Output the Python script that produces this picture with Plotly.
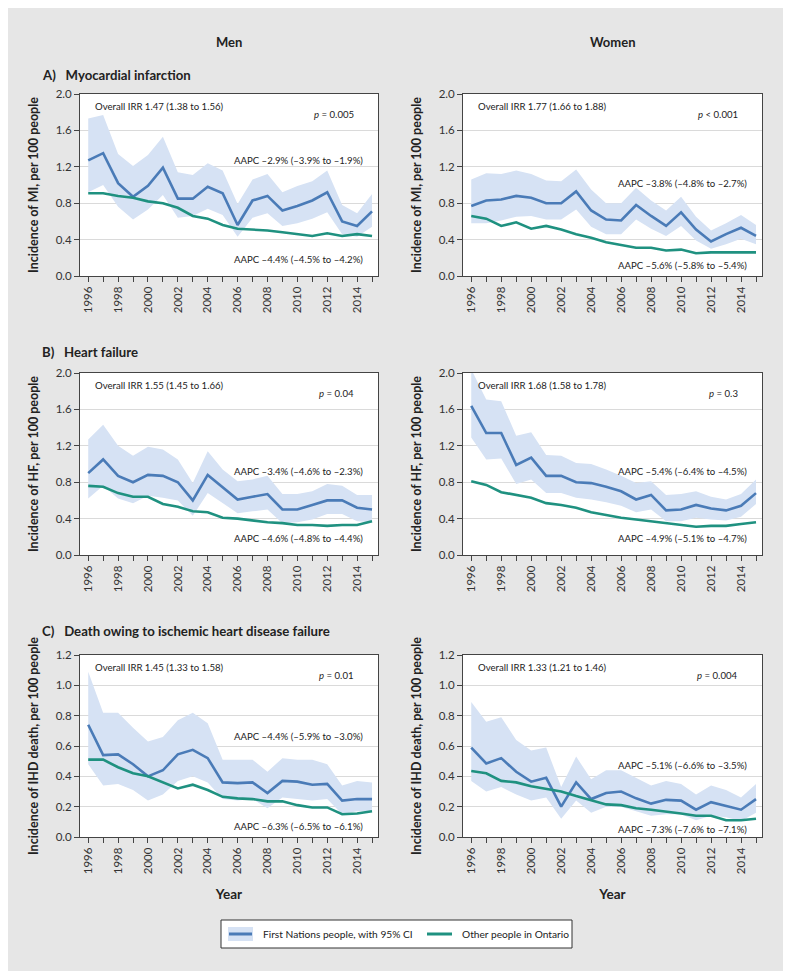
import plotly.graph_objects as go

# The page body has an 8 px default margin, so the figure is drawn at (8, 8)
OFF = 8
W, H = 791 - OFF, 978 - OFF

years = list(range(1996, 2016))
tick_labels = [str(y) if y % 2 == 0 else "" for y in years]

# A) Myocardial infarction
mi_men_fn = [1.27, 1.35, 1.02, 0.87, 0.99, 1.19, 0.85, 0.85, 0.98, 0.91, 0.56, 0.83, 0.88, 0.72, 0.77, 0.83, 0.92, 0.60, 0.55, 0.71]
mi_men_hi = [1.73, 1.77, 1.34, 1.21, 1.33, 1.53, 1.14, 1.11, 1.24, 1.16, 0.79, 1.06, 1.12, 0.92, 0.99, 1.04, 1.16, 0.78, 0.69, 0.90]
mi_men_lo = [0.92, 1.00, 0.76, 0.62, 0.73, 0.89, 0.64, 0.66, 0.74, 0.67, 0.43, 0.64, 0.69, 0.55, 0.58, 0.63, 0.70, 0.46, 0.43, 0.54]
mi_men_other = [0.91, 0.91, 0.88, 0.86, 0.82, 0.80, 0.75, 0.66, 0.63, 0.56, 0.52, 0.51, 0.50, 0.48, 0.46, 0.44, 0.47, 0.44, 0.46, 0.44]

mi_women_fn = [0.77, 0.83, 0.84, 0.88, 0.86, 0.80, 0.80, 0.93, 0.72, 0.62, 0.61, 0.78, 0.66, 0.55, 0.70, 0.51, 0.38, 0.46, 0.53, 0.44]
mi_women_hi = [1.06, 1.13, 1.12, 1.16, 1.12, 1.05, 1.04, 1.17, 0.95, 0.80, 0.80, 0.97, 0.83, 0.72, 0.87, 0.65, 0.50, 0.58, 0.67, 0.56]
mi_women_lo = [0.58, 0.58, 0.61, 0.65, 0.66, 0.62, 0.62, 0.73, 0.54, 0.46, 0.46, 0.62, 0.52, 0.44, 0.55, 0.39, 0.30, 0.35, 0.41, 0.35]
mi_women_other = [0.66, 0.63, 0.55, 0.59, 0.52, 0.55, 0.51, 0.46, 0.42, 0.37, 0.34, 0.31, 0.31, 0.28, 0.29, 0.25, 0.26, 0.26, 0.26, 0.26]

# B) Heart failure
hf_men_fn = [0.90, 1.05, 0.87, 0.80, 0.88, 0.87, 0.80, 0.60, 0.88, 0.74, 0.61, 0.64, 0.67, 0.50, 0.50, 0.55, 0.60, 0.60, 0.52, 0.50]
hf_men_hi = [1.27, 1.43, 1.20, 1.09, 1.19, 1.16, 1.05, 0.79, 1.14, 0.94, 0.81, 0.83, 0.87, 0.67, 0.67, 0.70, 0.78, 0.76, 0.66, 0.66]
hf_men_lo = [0.62, 0.76, 0.62, 0.57, 0.65, 0.63, 0.60, 0.43, 0.68, 0.57, 0.46, 0.48, 0.50, 0.35, 0.36, 0.39, 0.45, 0.45, 0.37, 0.36]
hf_men_other = [0.76, 0.75, 0.68, 0.64, 0.64, 0.56, 0.53, 0.48, 0.47, 0.41, 0.40, 0.38, 0.36, 0.35, 0.33, 0.33, 0.32, 0.33, 0.33, 0.37]

hf_women_fn = [1.64, 1.34, 1.34, 0.99, 1.07, 0.87, 0.87, 0.80, 0.79, 0.75, 0.70, 0.61, 0.66, 0.49, 0.50, 0.55, 0.51, 0.49, 0.54, 0.68]
hf_women_hi = [2.04, 1.71, 1.69, 1.31, 1.35, 1.10, 1.09, 1.01, 1.00, 0.94, 0.87, 0.79, 0.81, 0.66, 0.67, 0.70, 0.64, 0.61, 0.67, 0.83]
hf_women_lo = [1.29, 1.05, 1.06, 0.78, 0.83, 0.68, 0.68, 0.63, 0.61, 0.58, 0.54, 0.47, 0.50, 0.37, 0.37, 0.41, 0.39, 0.38, 0.42, 0.56]
hf_women_other = [0.81, 0.77, 0.69, 0.66, 0.63, 0.57, 0.55, 0.52, 0.47, 0.44, 0.41, 0.39, 0.37, 0.35, 0.33, 0.31, 0.32, 0.32, 0.34, 0.36]

# C) Death owing to ischemic heart disease
ihd_men_fn = [0.74, 0.54, 0.545, 0.48, 0.40, 0.44, 0.545, 0.575, 0.52, 0.36, 0.355, 0.36, 0.29, 0.37, 0.365, 0.345, 0.35, 0.24, 0.25, 0.25]
ihd_men_hi = [1.09, 0.82, 0.82, 0.72, 0.63, 0.66, 0.77, 0.82, 0.75, 0.51, 0.51, 0.51, 0.43, 0.52, 0.51, 0.51, 0.48, 0.34, 0.37, 0.36]
ihd_men_lo = [0.48, 0.34, 0.35, 0.31, 0.24, 0.28, 0.37, 0.40, 0.36, 0.25, 0.24, 0.25, 0.19, 0.26, 0.25, 0.24, 0.25, 0.15, 0.17, 0.17]
ihd_men_other = [0.51, 0.51, 0.46, 0.42, 0.40, 0.36, 0.32, 0.345, 0.31, 0.265, 0.255, 0.25, 0.235, 0.235, 0.21, 0.195, 0.195, 0.15, 0.155, 0.17]

ihd_women_fn = [0.59, 0.485, 0.52, 0.43, 0.365, 0.39, 0.20, 0.36, 0.25, 0.29, 0.30, 0.255, 0.22, 0.245, 0.24, 0.18, 0.23, 0.205, 0.18, 0.25]
ihd_women_hi = [0.89, 0.76, 0.79, 0.64, 0.57, 0.59, 0.33, 0.53, 0.38, 0.44, 0.44, 0.39, 0.34, 0.37, 0.35, 0.28, 0.34, 0.31, 0.26, 0.35]
ihd_women_lo = [0.37, 0.30, 0.33, 0.28, 0.24, 0.26, 0.12, 0.24, 0.16, 0.20, 0.20, 0.17, 0.14, 0.15, 0.15, 0.11, 0.14, 0.13, 0.105, 0.16]
ihd_women_other = [0.435, 0.42, 0.37, 0.36, 0.335, 0.32, 0.30, 0.27, 0.24, 0.215, 0.21, 0.19, 0.18, 0.17, 0.155, 0.14, 0.14, 0.11, 0.11, 0.12]

column_titles = ["Men", "Women"]
row_titles = ["A)\u2002 Myocardial infarction", "B)\u2002 Heart failure",
              "C)\u2002 Death owing to ischemic heart disease failure"]
y_titles = ["Incidence of MI, per 100 people", "Incidence of HF, per 100 people",
            "Incidence of IHD death, per 100 people"]
irr_texts = [["Overall IRR 1.47 (1.38 to 1.56)", "Overall IRR 1.77 (1.66 to 1.88)"],
             ["Overall IRR 1.55 (1.45 to 1.66)", "Overall IRR 1.68 (1.58 to 1.78)"],
             ["Overall IRR 1.45 (1.33 to 1.58)", "Overall IRR 1.33 (1.21 to 1.46)"]]
p_texts = [["<i>p</i> = 0.005", "<i>p</i> &lt; 0.001"],
           ["<i>p</i> = 0.04", "<i>p</i> = 0.3"],
           ["<i>p</i> = 0.01", "<i>p</i> = 0.004"]]
aapc_fn = [["AAPC \u20132.9% (\u20133.9% to \u20131.9%)", "AAPC \u20133.8% (\u20134.8% to \u20132.7%)"],
           ["AAPC \u20133.4% (\u20134.6% to \u20132.3%)", "AAPC \u20135.4% (\u20136.4% to \u20134.5%)"],
           ["AAPC \u20134.4% (\u20135.9% to \u20133.0%)", "AAPC \u20135.1% (\u20136.6% to \u20133.5%)"]]
aapc_other = [["AAPC \u20134.4% (\u20134.5% to \u20134.2%)", "AAPC \u20135.6% (\u20135.8% to \u20135.4%)"],
              ["AAPC \u20134.6% (\u20134.8% to \u20134.4%)", "AAPC \u20134.9% (\u20135.1% to \u20134.7%)"],
              ["AAPC \u20136.3% (\u20136.5% to \u20136.1%)", "AAPC \u20137.3% (\u20137.6% to \u20137.1%)"]]
aapc_fn_y = [[1.27, 1.02], [0.92, 0.92], [0.66, 0.47]]
aapc_other_y = [[0.18, 0.12], [0.18, 0.18], [0.07, 0.05]]
legend_labels = ["First Nations people, with 95% CI", "Other people in Ontario"]

panels = [
    [(mi_men_fn, mi_men_lo, mi_men_hi, mi_men_other), (mi_women_fn, mi_women_lo, mi_women_hi, mi_women_other)],
    [(hf_men_fn, hf_men_lo, hf_men_hi, hf_men_other), (hf_women_fn, hf_women_lo, hf_women_hi, hf_women_other)],
    [(ihd_men_fn, ihd_men_lo, ihd_men_hi, ihd_men_other), (ihd_women_fn, ihd_women_lo, ihd_women_hi, ihd_women_other)],
]
y_ranges = [(0, 2.0, 0.4), (0, 2.0, 0.4), (0, 1.2, 0.2)]

BLUE = "#4a7bb7"
BAND = "#d6e2f4"
TEAL = "#1f9180"
BG = "#e6e6e6"
FONT = "Lato"
TXT = "#222222"
ANN = 9.6

# layout positions in window pixels
col_px = [(80, 378), (463, 762)]
row_px = [(94, 276), (373, 555), (655, 837)]


def px(x):
    return (x - OFF) / W


def py(y):
    return 1 - (y - OFF) / H


fig = go.Figure()
layout = {}
annotations = []
shapes = []

for r in range(3):
    for c in range(2):
        idx = r * 2 + c + 1
        xa = "x" if idx == 1 else f"x{idx}"
        ya = "y" if idx == 1 else f"y{idx}"
        fn, lo, hi, other = panels[r][c]
        fig.add_trace(go.Scatter(x=years, y=hi, mode="lines", line=dict(width=0, color=BAND),
                                 xaxis=xa, yaxis=ya, showlegend=False, hoverinfo="skip"))
        fig.add_trace(go.Scatter(x=years, y=lo, mode="lines", line=dict(width=0, color=BAND),
                                 fill="tonexty", fillcolor=BAND,
                                 xaxis=xa, yaxis=ya, showlegend=False, hoverinfo="skip"))
        fig.add_trace(go.Scatter(x=years, y=fn, mode="lines", line=dict(width=2.6, color=BLUE),
                                 xaxis=xa, yaxis=ya, showlegend=False, name=legend_labels[0]))
        fig.add_trace(go.Scatter(x=years, y=other, mode="lines", line=dict(width=2.6, color=TEAL),
                                 xaxis=xa, yaxis=ya, showlegend=False, name=legend_labels[1]))

        x0, x1 = col_px[c]
        t, b = row_px[r]
        y0, y1, dt = y_ranges[r]
        xkey = "xaxis" if idx == 1 else f"xaxis{idx}"
        ykey = "yaxis" if idx == 1 else f"yaxis{idx}"
        layout[xkey] = dict(
            domain=[px(x0), px(x1)], anchor=ya, range=[1995.45, 2015.4],
            tickmode="array", tickvals=years, ticktext=tick_labels, tickangle=-90,
            ticks="outside", ticklen=5, tickcolor="#444", tickwidth=1,
            showline=True, linecolor="#444", linewidth=1, mirror=True,
            showgrid=False, zeroline=False, automargin=False,
            tickfont=dict(family=FONT, size=11.5, color="#333"),
            title=dict(text="Year" if r == 2 else "", standoff=16,
                       font=dict(family=FONT, size=13.5, color=TXT, weight="bold")),
        )
        layout[ykey] = dict(
            domain=[py(b), py(t)], anchor=xa, range=[y0, y1],
            tickmode="linear", tick0=0, dtick=dt, tickformat=".1f",
            ticks="outside", ticklen=5, tickcolor="#444", tickwidth=1,
            showline=True, linecolor="#444", linewidth=1, mirror=True,
            showgrid=True, gridcolor="#dadada", gridwidth=1, zeroline=False, automargin=False,
            tickfont=dict(family=FONT, size=11.5, color="#333"),
            title=dict(text=y_titles[r], standoff=14,
                       font=dict(family=FONT, size=12.5, color=TXT, weight="bold")),
        )
        dx = f"{xa} domain"
        dy = f"{ya} domain"
        annotations.append(dict(text=irr_texts[r][c], xref=dx, yref=dy, x=0.045, y=0.93,
                                xanchor="left", yanchor="middle", showarrow=False,
                                font=dict(family=FONT, size=ANN, color=TXT)))
        annotations.append(dict(text=p_texts[r][c], xref=dx, yref=dy, x=0.925, y=0.885,
                                xanchor="right", yanchor="middle", showarrow=False,
                                font=dict(family=FONT, size=ANN, color=TXT)))
        annotations.append(dict(text=aapc_fn[r][c], xref=dx, yref=ya, x=0.955, y=aapc_fn_y[r][c],
                                xanchor="right", yanchor="middle", showarrow=False,
                                font=dict(family=FONT, size=ANN, color=TXT)))
        annotations.append(dict(text=aapc_other[r][c], xref=dx, yref=ya, x=0.955, y=aapc_other_y[r][c],
                                xanchor="right", yanchor="middle", showarrow=False,
                                font=dict(family=FONT, size=ANN, color=TXT)))

# column titles
for c, name in enumerate(column_titles):
    annotations.append(dict(text=name, xref="paper", yref="paper", x=px((col_px[c][0] + col_px[c][1]) / 2),
                            y=py(42), xanchor="center", yanchor="middle", showarrow=False,
                            font=dict(family=FONT, size=13, color=TXT, weight="bold")))
# row titles
for r, (name, ypos) in enumerate(zip(row_titles, [75, 352, 631])):
    annotations.append(dict(text=name, xref="paper", yref="paper", x=px(40), y=py(ypos),
                            xanchor="left", yanchor="middle", showarrow=False,
                            font=dict(family=FONT, size=13.2, color=TXT, weight="bold")))

# white strips at the right and bottom of the grey panel
shapes.append(dict(type="rect", xref="paper", yref="paper", x0=px(785), x1=1.01, y0=-0.01, y1=1.01,
                   line=dict(width=0), fillcolor="white", layer="above"))
shapes.append(dict(type="rect", xref="paper", yref="paper", x0=-0.01, x1=1.01, y0=-0.01, y1=py(971),
                   line=dict(width=0), fillcolor="white", layer="above"))

# legend (drawn manually)
shapes.append(dict(type="rect", xref="paper", yref="paper", x0=px(221), x1=px(572), y0=py(948), y1=py(920),
                   line=dict(color="#333", width=1), fillcolor="white", layer="above"))
shapes.append(dict(type="rect", xref="paper", yref="paper", x0=px(228), x1=px(253), y0=py(941), y1=py(927),
                   line=dict(width=0), fillcolor=BAND, layer="above"))
shapes.append(dict(type="line", xref="paper", yref="paper", x0=px(229), x1=px(252), y0=py(934), y1=py(934),
                   line=dict(color=BLUE, width=3), layer="above"))
shapes.append(dict(type="line", xref="paper", yref="paper", x0=px(427), x1=px(452), y0=py(934), y1=py(934),
                   line=dict(color=TEAL, width=3), layer="above"))
annotations.append(dict(text=legend_labels[0], xref="paper", yref="paper", x=px(261), y=py(934),
                        xanchor="left", yanchor="middle", showarrow=False,
                        font=dict(family=FONT, size=10.2, color=TXT)))
annotations.append(dict(text=legend_labels[1], xref="paper", yref="paper", x=px(460), y=py(934),
                        xanchor="left", yanchor="middle", showarrow=False,
                        font=dict(family=FONT, size=10.2, color=TXT)))

fig.update_layout(
    width=W, height=H, margin=dict(l=0, r=0, t=0, b=0, pad=0),
    paper_bgcolor=BG, plot_bgcolor="white", showlegend=False,
    font=dict(family=FONT, color=TXT),
    annotations=annotations, shapes=shapes, **layout,
)

fig.write_html("out.html")
